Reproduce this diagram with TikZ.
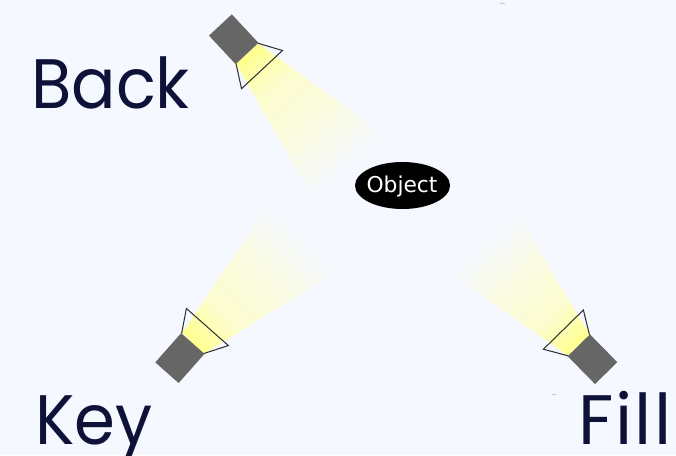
\documentclass[tikz,border=0pt]{standalone}
\usepackage{fontspec}
\usetikzlibrary{shapes.geometric}
\setmainfont[FakeStretch=0.94]{Poppins}
\newfontfamily\fillfont[LetterSpace=3]{Poppins}
\newfontfamily\objfont{DejaVu Sans}
\definecolor{bgcol}{HTML}{F5F8FF}
\definecolor{inkcol}{HTML}{0F1238}
\definecolor{lampcol}{HTML}{666666}
\definecolor{rimcol}{HTML}{333333}
\definecolor{beamcol}{HTML}{FFFF8C}
\definecolor{beamb}{HTML}{FEFEAE}
\definecolor{beamc}{HTML}{FCFDCE}
\definecolor{beamd}{HTML}{FAFBE2}
\tikzset{
  biglabel/.style={anchor=base west,inner sep=0pt,text=inkcol,font=\fontsize{70}{70}\selectfont},
  lampbody/.style={fill=lampcol,draw=none},
  lamprim/.style={draw=rimcol,line width=1.05pt,line join=miter,fill=none},
  speck/.style={draw=gray!70,line width=0.8pt,opacity=.6}
}
\pgfdeclarehorizontalshading{beamfade}{100bp}{color(0bp)=(beamcol); color(25bp)=(beamcol); color(31bp)=(beamb); color(38bp)=(beamc); color(55bp)=(beamd); color(72bp)=(bgcol); color(100bp)=(bgcol)}
% x, y, body angle, beam length, beam angle
\newcommand{\lamp}[5]{%
  \begin{scope}[transform canvas={shift={(#1,#2)},rotate=#5}]
    \clip (0,-15) -- (#4,{-15-0.215*#4}) -- (#4,{15+0.215*#4}) -- (0,15) -- cycle;
    \shade[shading=beamfade] (0,-70) rectangle (#4,70);
  \end{scope}
  \begin{scope}[transform canvas={shift={(#1,#2)},rotate=#3}]
    \draw[lamprim] (0,15) -- (22,28) -- (22,-28) -- (0,-15);
    \fill[lampbody] (-39,-15.6) rectangle (0,15.6);
  \end{scope}}
\begin{document}
\begin{tikzpicture}[x=1pt,y=1pt]
\useasboundingbox (0,-455) rectangle (676,0);
\fill[bgcol] (0,-455) rectangle (676,0);
\lamp{247}{-53.5}{-47}{165}{-48}
\lamp{192.8}{-343.5}{48.5}{165}{44}
\lamp{578.8}{-345.3}{134.5}{150}{133}
\node[ellipse,fill=black,minimum width=95pt,minimum height=47pt,inner sep=0pt] (object) at (402.5,-185.5) {};
\node[text=white,inner sep=0pt,font=\objfont\fontsize{21.8}{22}\selectfont] (objtext) at (402,-186) {Object};
\node[biglabel] (back) at (31,-108) {Back};
\node[biglabel] (key) at (35,-444) {Key};
\node[biglabel,font=\fillfont\fontsize{70}{70}\selectfont] (fill) at (578,-444) {Fill};
\draw[speck] (500,-3.5) -- (505,-3.5);
\draw[speck] (552,-394.5) -- (556,-394.5);
\end{tikzpicture}
\end{document}
